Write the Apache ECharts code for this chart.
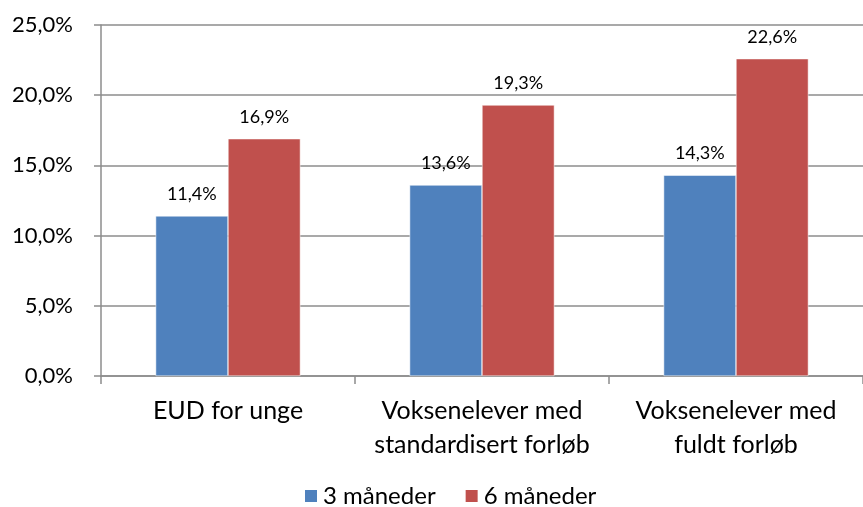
<!DOCTYPE html>
<html>
<head>
<meta charset="utf-8">
<script src="https://cdn.jsdelivr.net/npm/echarts@6/dist/echarts.min.js"></script>
<style>
html,body{margin:0;padding:0;background:#fff;}
#chart{width:863px;height:507px;}
</style>
</head>
<body>
<div id="chart"></div>
<script>
// kategorier og serier
var categories = ['EUD for unge', 'Voksenelever med\nstandardisert forløb', 'Voksenelever med\nfuldt forløb'];
var seriesNames = ['3 måneder', '6 måneder'];
var values3 = [11.4, 13.6, 14.3];
var values6 = [16.9, 19.3, 22.6];
var yTicks = [0, 5, 10, 15, 20, 25];

function pct(v) {
	return v.toFixed(1).replace('.', ',') + '%';
}

var font = 'Lato, "Open Sans", sans-serif';
var chart = echarts.init(document.getElementById('chart'));
var option = {
	animation: false,
	textStyle: { fontFamily: font },
	color: ['#4f81bd', '#c0504d'],
	// plottet går litt ut over høyre kant, som i originalen
	grid: { left: 101, right: -9, top: 25, bottom: 131 },
	legend: {
		bottom: -6,
		left: 298,
		itemWidth: 14,
		itemHeight: 14,
		itemGap: 28,
		icon: 'rect',
		textStyle: { fontSize: 24, color: '#000', fontFamily: font },
		data: seriesNames
	},
	xAxis: {
		type: 'category',
		data: categories,
		axisLine: { lineStyle: { color: '#8c8c8c', width: 1.5 } },
		axisTick: { show: true, length: 8, lineStyle: { color: '#8c8c8c', width: 1.5 } },
		axisLabel: { interval: 0, fontSize: 25, color: '#000', margin: 18, lineHeight: 34, fontFamily: font }
	},
	yAxis: {
		type: 'value',
		min: yTicks[0],
		max: yTicks[yTicks.length - 1],
		interval: 5,
		axisLine: { show: true, lineStyle: { color: '#8c8c8c', width: 1.5 } },
		axisTick: { show: true, length: 7, lineStyle: { color: '#8c8c8c', width: 1.5 } },
		splitLine: { lineStyle: { color: '#8c8c8c', width: 1.5 } },
		axisLabel: {
			fontSize: 22, color: '#000', margin: 28, fontFamily: font,
			formatter: function(v) { return pct(v); }
		}
	},
	series: [
		{
			name: seriesNames[0],
			type: 'bar',
			data: values3,
			barGap: '0%',
			barCategoryGap: '43%',
			itemStyle: { borderColor: '#ffffff', borderWidth: 0.5 },
			label: { show: true, position: 'top', distance: 13, fontSize: 18, color: '#000', fontFamily: font,
				formatter: function(p) { return pct(p.value); } }
		},
		{
			name: seriesNames[1],
			type: 'bar',
			data: values6,
			itemStyle: { borderColor: '#ffffff', borderWidth: 0.5 },
			label: { show: true, position: 'top', distance: 13, fontSize: 18, color: '#000', fontFamily: font,
				formatter: function(p) { return pct(p.value); } }
		}
	]
};
chart.setOption(option);
</script>
</body>
</html>
